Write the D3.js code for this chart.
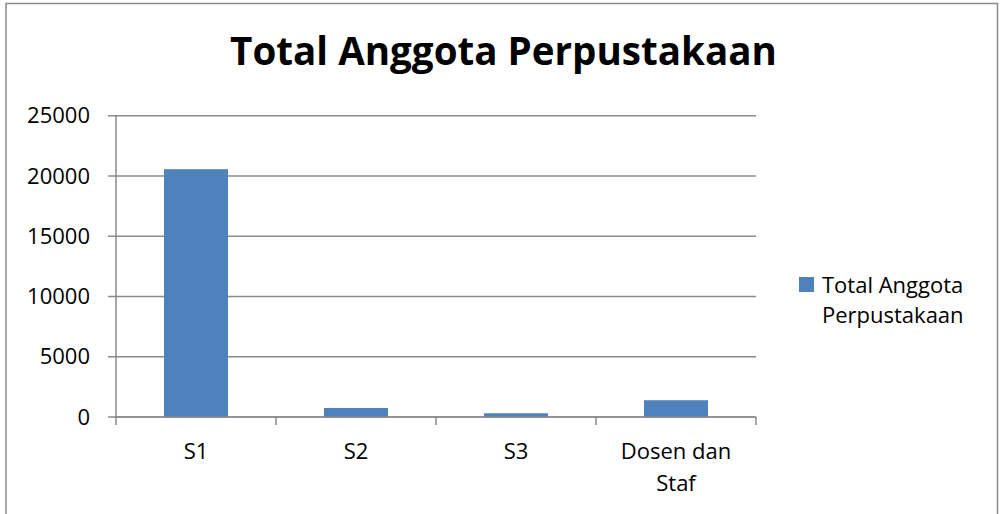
<!DOCTYPE html>
<html>
<head>
<meta charset="utf-8">
<script src="https://cdn.jsdelivr.net/npm/d3@7"></script>
<style>
  body { margin: 0; background: #fff; }
  svg { display: block; font-family: "Open Sans", sans-serif; }
</style>
</head>
<body>
<svg id="chart" width="1000" height="514"></svg>
<script>
// data
const categories = ["S1", "S2", "S3", "Dosen dan Staf"]
const values = [20560, 750, 310, 1390]
const yTicks = [0, 5000, 10000, 15000, 20000, 25000]
const seriesName = "Total Anggota Perpustakaan"
const title = "Total Anggota Perpustakaan"

const barColor = "#4f81bd"
const gridColor = "#8a8a8a"

const svg = d3.select("#chart")

// outer chart frame (bottom is cut off by the picture)
svg.append("path")
    .attr("d", "M6,520 L6,3.5 L997.5,3.5 L997.5,520")
    .attr("fill", "none")
    .attr("stroke", gridColor)
    .attr("stroke-width", 1.5)

const plot = { left: 116, right: 756, top: 115.7, bottom: 417 }

let x = d3.scaleBand()
    .domain(categories)
    .range([plot.left, plot.right])
    .paddingInner(0.6)
    .paddingOuter(0.3)

let y = d3.scaleLinear()
    .domain([0, 25000])
    .range([plot.bottom, plot.top])

// gridlines
svg.append("g")
    .selectAll("line")
    .data(yTicks)
    .enter()
    .append("line")
    .attr("x1", plot.left - 8)
    .attr("x2", plot.right)
    .attr("y1", d => y(d))
    .attr("y2", d => y(d))
    .attr("stroke", gridColor)
    .attr("stroke-width", 1.5)

// y axis line
svg.append("line")
    .attr("x1", plot.left).attr("x2", plot.left)
    .attr("y1", plot.top).attr("y2", plot.bottom)
    .attr("stroke", gridColor)
    .attr("stroke-width", 1.5)

// y labels
svg.append("g")
    .selectAll("text")
    .data(yTicks)
    .enter()
    .append("text")
    .attr("x", 90)
    .attr("y", d => y(d))
    .attr("dy", "0.35em")
    .attr("text-anchor", "end")
    .attr("font-size", "22px")
    .attr("fill", "#000")
    .text(d => d)

// bars
svg.append("g")
    .selectAll("rect")
    .data(values)
    .enter()
    .append("rect")
    .attr("x", (d, i) => x(categories[i]))
    .attr("y", d => y(d))
    .attr("width", x.bandwidth())
    .attr("height", d => plot.bottom - y(d))
    .attr("fill", barColor)

// x axis with category ticks between bands
const step = x.step()
svg.append("line")
    .attr("x1", plot.left).attr("x2", plot.right)
    .attr("y1", plot.bottom).attr("y2", plot.bottom)
    .attr("stroke", gridColor)
    .attr("stroke-width", 1.5)
svg.append("g")
    .selectAll("line")
    .data(d3.range(categories.length + 1))
    .enter()
    .append("line")
    .attr("x1", i => plot.left + i * step)
    .attr("x2", i => plot.left + i * step)
    .attr("y1", plot.bottom)
    .attr("y2", plot.bottom + 8)
    .attr("stroke", gridColor)
    .attr("stroke-width", 1.5)

// category labels, wrapped like the original
const catLines = { "Dosen dan Staf": ["Dosen dan", "Staf"] }
categories.forEach(c => {
    let lines = catLines[c] || [c]
    let t = svg.append("text")
        .attr("text-anchor", "middle")
        .attr("font-size", "22px")
        .attr("fill", "#000")
    lines.forEach((ln, i) => {
        t.append("tspan")
            .attr("x", x(c) + x.bandwidth() / 2)
            .attr("y", 459 + i * 32)
            .text(ln)
    })
})

// title, fitted to the width it has in the picture
let tt = svg.append("text")
    .attr("x", 503.5)
    .attr("y", 65)
    .attr("text-anchor", "middle")
    .attr("font-weight", "bold")
    .attr("font-size", "36px")
    .attr("fill", "#000")
    .text(title)
let w = tt.node().getComputedTextLength()
tt.attr("font-size", (36 * 547 / w) + "px")

// legend
svg.append("rect")
    .attr("x", 799).attr("y", 277)
    .attr("width", 15).attr("height", 15)
    .attr("fill", barColor)
let lg = svg.append("text")
    .attr("font-size", "22px")
    .attr("fill", "#000")
;["Total Anggota", "Perpustakaan"].forEach((ln, i) => {
    lg.append("tspan").attr("x", 822).attr("y", 293 + i * 30).text(ln)
})
</script>
</body>
</html>
